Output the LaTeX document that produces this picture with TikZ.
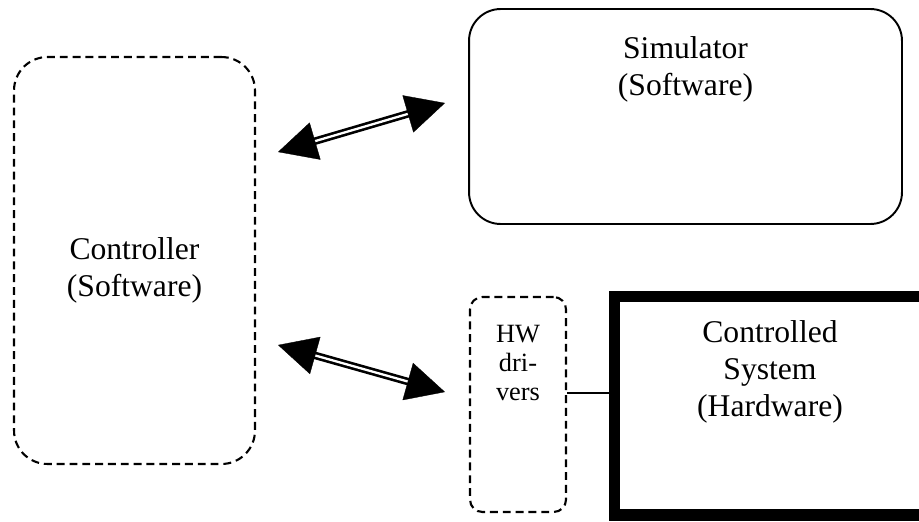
\documentclass[tikz,border=0pt]{standalone}
\usepackage{fontspec}
\setmainfont{Liberation Serif}
\usetikzlibrary{arrows.meta}

\begin{document}
\begin{tikzpicture}[x=0.02cm, y=0.02cm,
  every node/.style={inner sep=0pt},
  swbox/.style={draw, dash pattern=on 4.5pt off 2.8pt, line width=1.2pt, rounded corners=19pt},
  simbox/.style={draw, line width=1.1pt, rounded corners=18pt},
  hwbox/.style={draw, line width=6.3pt},
  txt/.style={align=center, font=\fontsize{18}{21}\selectfont},
  smalltxt/.style={align=center, font=\fontsize{15}{16.5}\selectfont},
  shaft/.style={double, line width=1.5pt, double distance=1.3pt, shorten <=18pt, shorten >=18pt},
  tips/.style={white, line width=0.2pt,
    {Triangle[length=22pt,width=22pt,color=black]}-{Triangle[length=22pt,width=22pt,color=black]}}]
\useasboundingbox (0,0) rectangle (919,-521);

% boxes
\node[swbox, minimum width=4.82cm, minimum height=8.14cm] (ctrl) at (134.5,-260.5) {};
\node[simbox, minimum width=8.66cm, minimum height=4.3cm] (sim) at (685.5,-116.5) {};
\node[swbox, rounded corners=7pt, minimum width=1.92cm, minimum height=4.3cm] (drv) at (518,-404.5) {};
\node[hwbox, minimum width=6.24cm, minimum height=4.37cm] (plant) at (770,-405.75) {};

% labels
\node[txt] (ctrltxt) at (134.5,-270) {Controller\\(Software)};
\node[txt] (simtxt) at (685.5,-69.5) {Simulator\\(Software)};
\node[smalltxt] (drvtxt) at (518,-363) {HW\\dri-\\vers};
\node[txt] (planttxt) at (770,-371.5) {Controlled\\System\\(Hardware)};

% arrows
\coordinate (a1) at (278,-152);
\coordinate (a2) at (445,-103);
\coordinate (b1) at (278,-345);
\coordinate (b2) at (445,-392);
\draw[shaft] (a1) -- (a2);
\draw[tips] (a1) -- (a2);
\draw[shaft] (b1) -- (b2);
\draw[tips] (b1) -- (b2);

% driver link
\coordinate (link) at (0,-393);
\draw[line width=0.8pt] (drv.east |- link) -- (plant.west |- link);
\end{tikzpicture}
\end{document}
